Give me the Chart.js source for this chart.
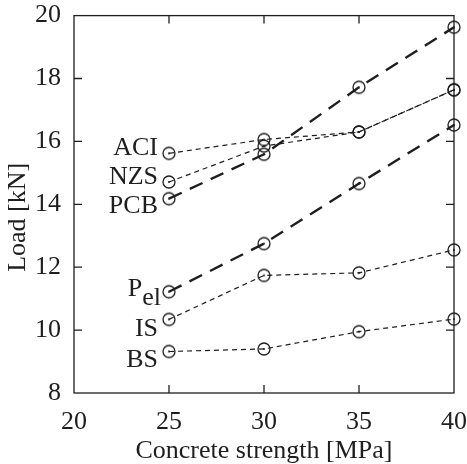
<!DOCTYPE html>
<html>
<head>
<meta charset="utf-8">
<script src="https://cdn.jsdelivr.net/npm/chart.js@4.4.1/dist/chart.umd.min.js"></script>
<style>
  html, body { margin: 0; padding: 0; background: #fff; }
  #wrap { width: 467px; height: 464px; }
</style>
</head>
<body>
<div id="wrap"><canvas id="loadChart"></canvas></div>
<script>
// --- data (load in kN vs concrete strength in MPa) ---
const strengths = [25, 30, 35, 40];
const aci    = [15.62, 16.06, 16.30, 17.64];
const nzs    = [14.71, 15.85, 16.30, 17.64];
const pcb    = [14.18, 15.59, 17.72, 19.63];
const pel    = [11.22, 12.75, 14.66, 16.52];
const isCode = [10.34, 11.74, 11.82, 12.55];
const bs     = [9.32, 9.40, 9.95, 10.35];

const seriesNames = ['ACI', 'NZS', 'PCB', 'P_el', 'IS', 'BS'];
const labelY = [15.78, 14.86, 13.94, 11.30, 10.03, 9.05]; // label centres, in kN

const xMin = 20, xMax = 40, xStep = 5;
const yMin = 8, yMax = 20, yStep = 2;

const INK = '#1e1e1e';
const FONT = "'Liberation Serif', 'DejaVu Serif', serif";

// open circle with a dot in the middle
function makeMarker() {
    const c = document.createElement('canvas');
    c.width = 16; c.height = 16;
    const g = c.getContext('2d');
    g.strokeStyle = INK;
    g.lineWidth = 1.3;
    g.beginPath();
    g.arc(8, 8, 6, 0, Math.PI * 2);
    g.stroke();
    g.fillStyle = INK;
    g.beginPath();
    g.arc(8, 8, 1, 0, Math.PI * 2);
    g.fill();
    return c;
}
const marker = makeMarker();

function series(values, thick) {
    return {
        data: strengths.map((s, i) => ({ x: s, y: values[i] })),
        borderColor: INK,
        borderWidth: thick ? 2.4 : 1.2,
        borderDash: thick ? [14, 9] : [5, 4],
        pointStyle: marker,
        pointRadius: 6,
        pointHoverRadius: 6,
        fill: false,
        tension: 0,
        clip: false
    };
}

// frame with inward ticks on all sides + series labels
const framePlugin = {
    id: 'frame',
    afterDatasetsDraw(chart) {
        const { ctx, chartArea: a, scales: { x, y } } = chart;
        ctx.save();
        ctx.strokeStyle = INK;
        ctx.lineWidth = 1.3;
        ctx.setLineDash([]);
        ctx.strokeRect(a.left, a.top, a.right - a.left, a.bottom - a.top);
        ctx.beginPath();
        x.ticks.forEach(t => {
            const px = x.getPixelForValue(t.value);
            if (px <= a.left + 1 || px >= a.right - 1) return;
            ctx.moveTo(px, a.bottom); ctx.lineTo(px, a.bottom - 8);
            ctx.moveTo(px, a.top); ctx.lineTo(px, a.top + 8);
        });
        y.ticks.forEach(t => {
            const py = y.getPixelForValue(t.value);
            if (py <= a.top + 1 || py >= a.bottom - 1) return;
            ctx.moveTo(a.left, py); ctx.lineTo(a.left + 8, py);
            ctx.moveTo(a.right, py); ctx.lineTo(a.right - 8, py);
        });
        ctx.stroke();

        // labels sit just left of the first point
        const x0 = x.getPixelForValue(strengths[0]) - 11;
        ctx.fillStyle = INK;
        ctx.font = '26px ' + FONT;
        ctx.textBaseline = 'middle';
        ctx.textAlign = 'right';
        seriesNames.forEach((name, i) => {
            const py = y.getPixelForValue(labelY[i]);
            if (name === 'P_el') {
                const sub = 'el';
                ctx.fillText(sub, x0 + 3, py + 9);
                const w = ctx.measureText(sub).width;
                ctx.fillText('P', x0 + 3 - w, py);
            } else {
                ctx.fillText(name, x0, py);
            }
        });
        ctx.restore();
    }
};

document.addEventListener('DOMContentLoaded', () => {
    const ctx = document.getElementById('loadChart').getContext('2d');
    new Chart(ctx, {
        type: 'line',
        data: {
            datasets: [
                series(aci, false),
                series(nzs, false),
                series(pcb, true),
                series(pel, true),
                series(isCode, false),
                series(bs, false)
            ]
        },
        options: {
            responsive: true,
            maintainAspectRatio: false,
            animation: false,
            events: [],
            layout: { padding: 0 },
            scales: {
                x: {
                    type: 'linear',
                    min: xMin, max: xMax,
                    ticks: { stepSize: xStep, color: INK, padding: 0, font: { family: FONT, size: 26 } },
                    grid: { display: false, drawTicks: true, tickLength: 14 },
                    border: { display: false },
                    title: {
                        display: true,
                        text: 'Concrete strength [MPa]',
                        color: INK,
                        font: { family: FONT, size: 26 },
                        padding: { top: 0, bottom: -3 }
                    },
                    afterFit: (s) => { s.height = 71; }
                },
                y: {
                    type: 'linear',
                    min: yMin, max: yMax,
                    ticks: { stepSize: yStep, color: INK, padding: 0, font: { family: FONT, size: 26 } },
                    grid: { display: false, drawTicks: true, tickLength: 13 },
                    border: { display: false },
                    title: {
                        display: true,
                        text: 'Load [kN]    ',
                        color: INK,
                        font: { family: FONT, size: 26 },
                        padding: { top: 3, bottom: 0 }
                    },
                    afterFit: (s) => { s.width = 74; }
                }
            },
            plugins: {
                legend: { display: false },
                tooltip: { enabled: false }
            }
        },
        plugins: [framePlugin]
    });
});
</script>
</body>
</html>
